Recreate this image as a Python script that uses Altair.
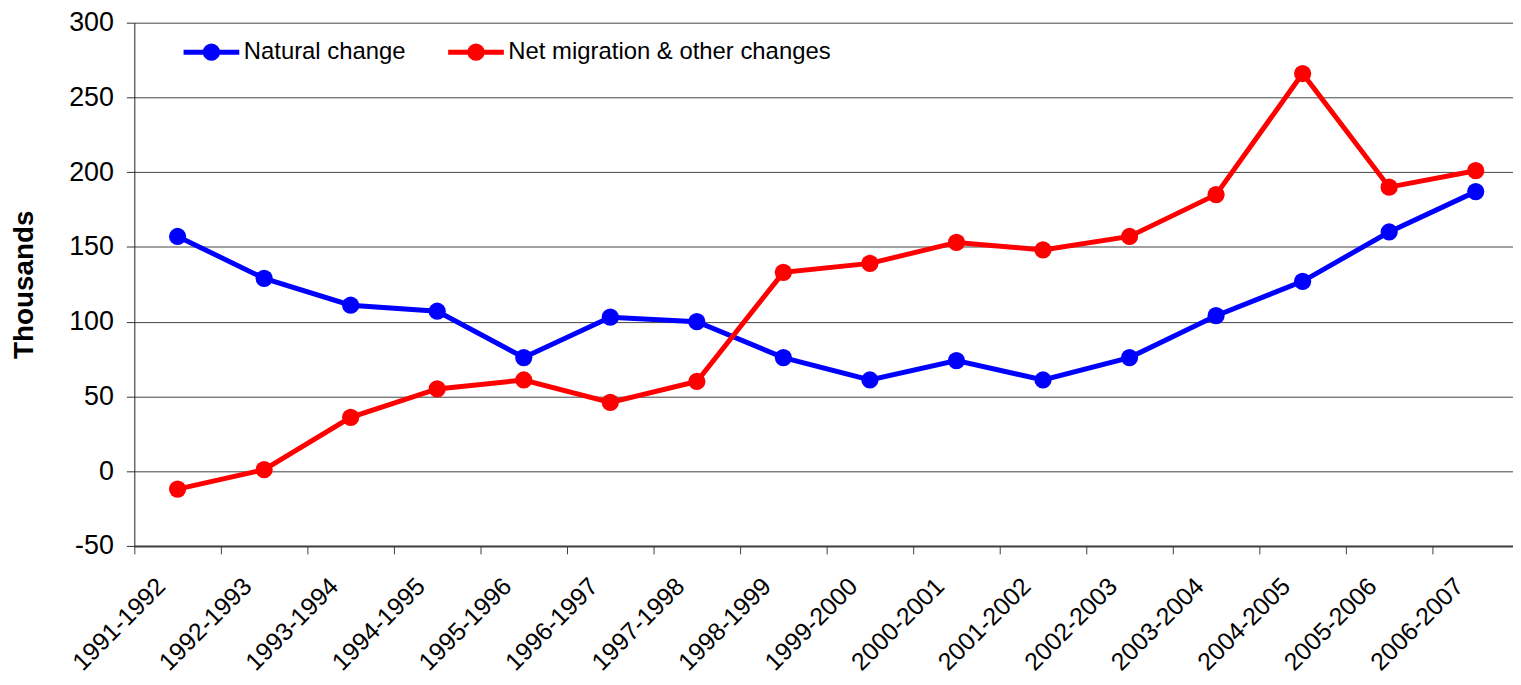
import altair as alt
import pandas as pd

periods = ["1991-1992", "1992-1993", "1993-1994", "1994-1995", "1995-1996",
           "1996-1997", "1997-1998", "1998-1999", "1999-2000", "2000-2001",
           "2001-2002", "2002-2003", "2003-2004", "2004-2005", "2005-2006",
           "2006-2007"]
natural_change = [157, 129, 111, 107, 76, 103, 100, 76, 61, 74, 61, 76, 104, 127, 160, 187]
net_migration = [-12, 1, 36, 55, 61, 46, 60, 133, 139, 153, 148, 157, 185, 266, 190, 201]
series_names = ["Natural change", "Net migration & other changes"]
series_colors = ["#0000FF", "#FF0000"]
y_ticks = [-50, 0, 50, 100, 150, 200, 250, 300]

rows = []
for p, v in zip(periods, natural_change):
    rows.append({"period": p, "series": series_names[0], "value": v})
for p, v in zip(periods, net_migration):
    rows.append({"period": p, "series": series_names[1], "value": v})
df = pd.DataFrame(rows)

FONT = "Liberation Sans"
legend_symbol = ("M-1,0L1,0"
                 "M-0.22,0A0.22,0.22,0,1,0,0.22,0A0.22,0.22,0,1,0,-0.22,0Z")

base = alt.Chart(df).encode(
    x=alt.X("period:N", sort=periods, title=None,
            scale=alt.Scale(paddingInner=0, paddingOuter=0),
            axis=alt.Axis(labelAngle=-45, labelAlign="right", labelBaseline="middle",
                          labelFontSize=25, labelFont=FONT, labelColor="#000000",
                          labelPadding=28, labelOffset=-17, tickBand="extent", tickSize=8,
                          tickColor="#404040", domainColor="#404040", domainWidth=2,
                          grid=False, labelOverlap=False)),
    y=alt.Y("value:Q", title="Thousands",
            scale=alt.Scale(domain=[-50, 300], nice=False, zero=False),
            axis=alt.Axis(values=y_ticks, labelFontSize=27, labelFont=FONT,
                          labelExpr="datum.value < 0 ? '-' + abs(datum.value) : '' + datum.value",
                          labelColor="#000000", labelPadding=13, tickSize=8,
                          tickColor="#333333", domainColor="#222222",
                          gridColor="#444444", gridWidth=1,
                          titleFont=FONT, titleFontSize=28, titleFontWeight="bold",
                          titleColor="#000000", titlePadding=30)),
    color=alt.Color("series:N",
                    scale=alt.Scale(domain=series_names, range=series_colors),
                    legend=alt.Legend(title=None, orient="none", direction="horizontal",
                                      legendX=47, legendY=-1,
                                      symbolType=legend_symbol, symbolSize=3136,
                                      symbolStrokeWidth=5, labelFontSize=24,
                                      labelFont=FONT, labelColor="#000000",
                                      labelLimit=0, labelOffset=2,
                                      columnPadding=32, padding=0)),
)

lines = base.mark_line(strokeWidth=5)
points = base.mark_circle(size=300, opacity=1)

chart = alt.layer(lines, points).properties(
    width=1392, height=526,
    autosize=alt.AutoSizeParams(type="none"),
    padding={"left": 127, "top": 13, "right": -6, "bottom": 130},
).configure_view(stroke=None)

chart.save("out.html", embed_options={"renderer": "svg", "actions": False})
